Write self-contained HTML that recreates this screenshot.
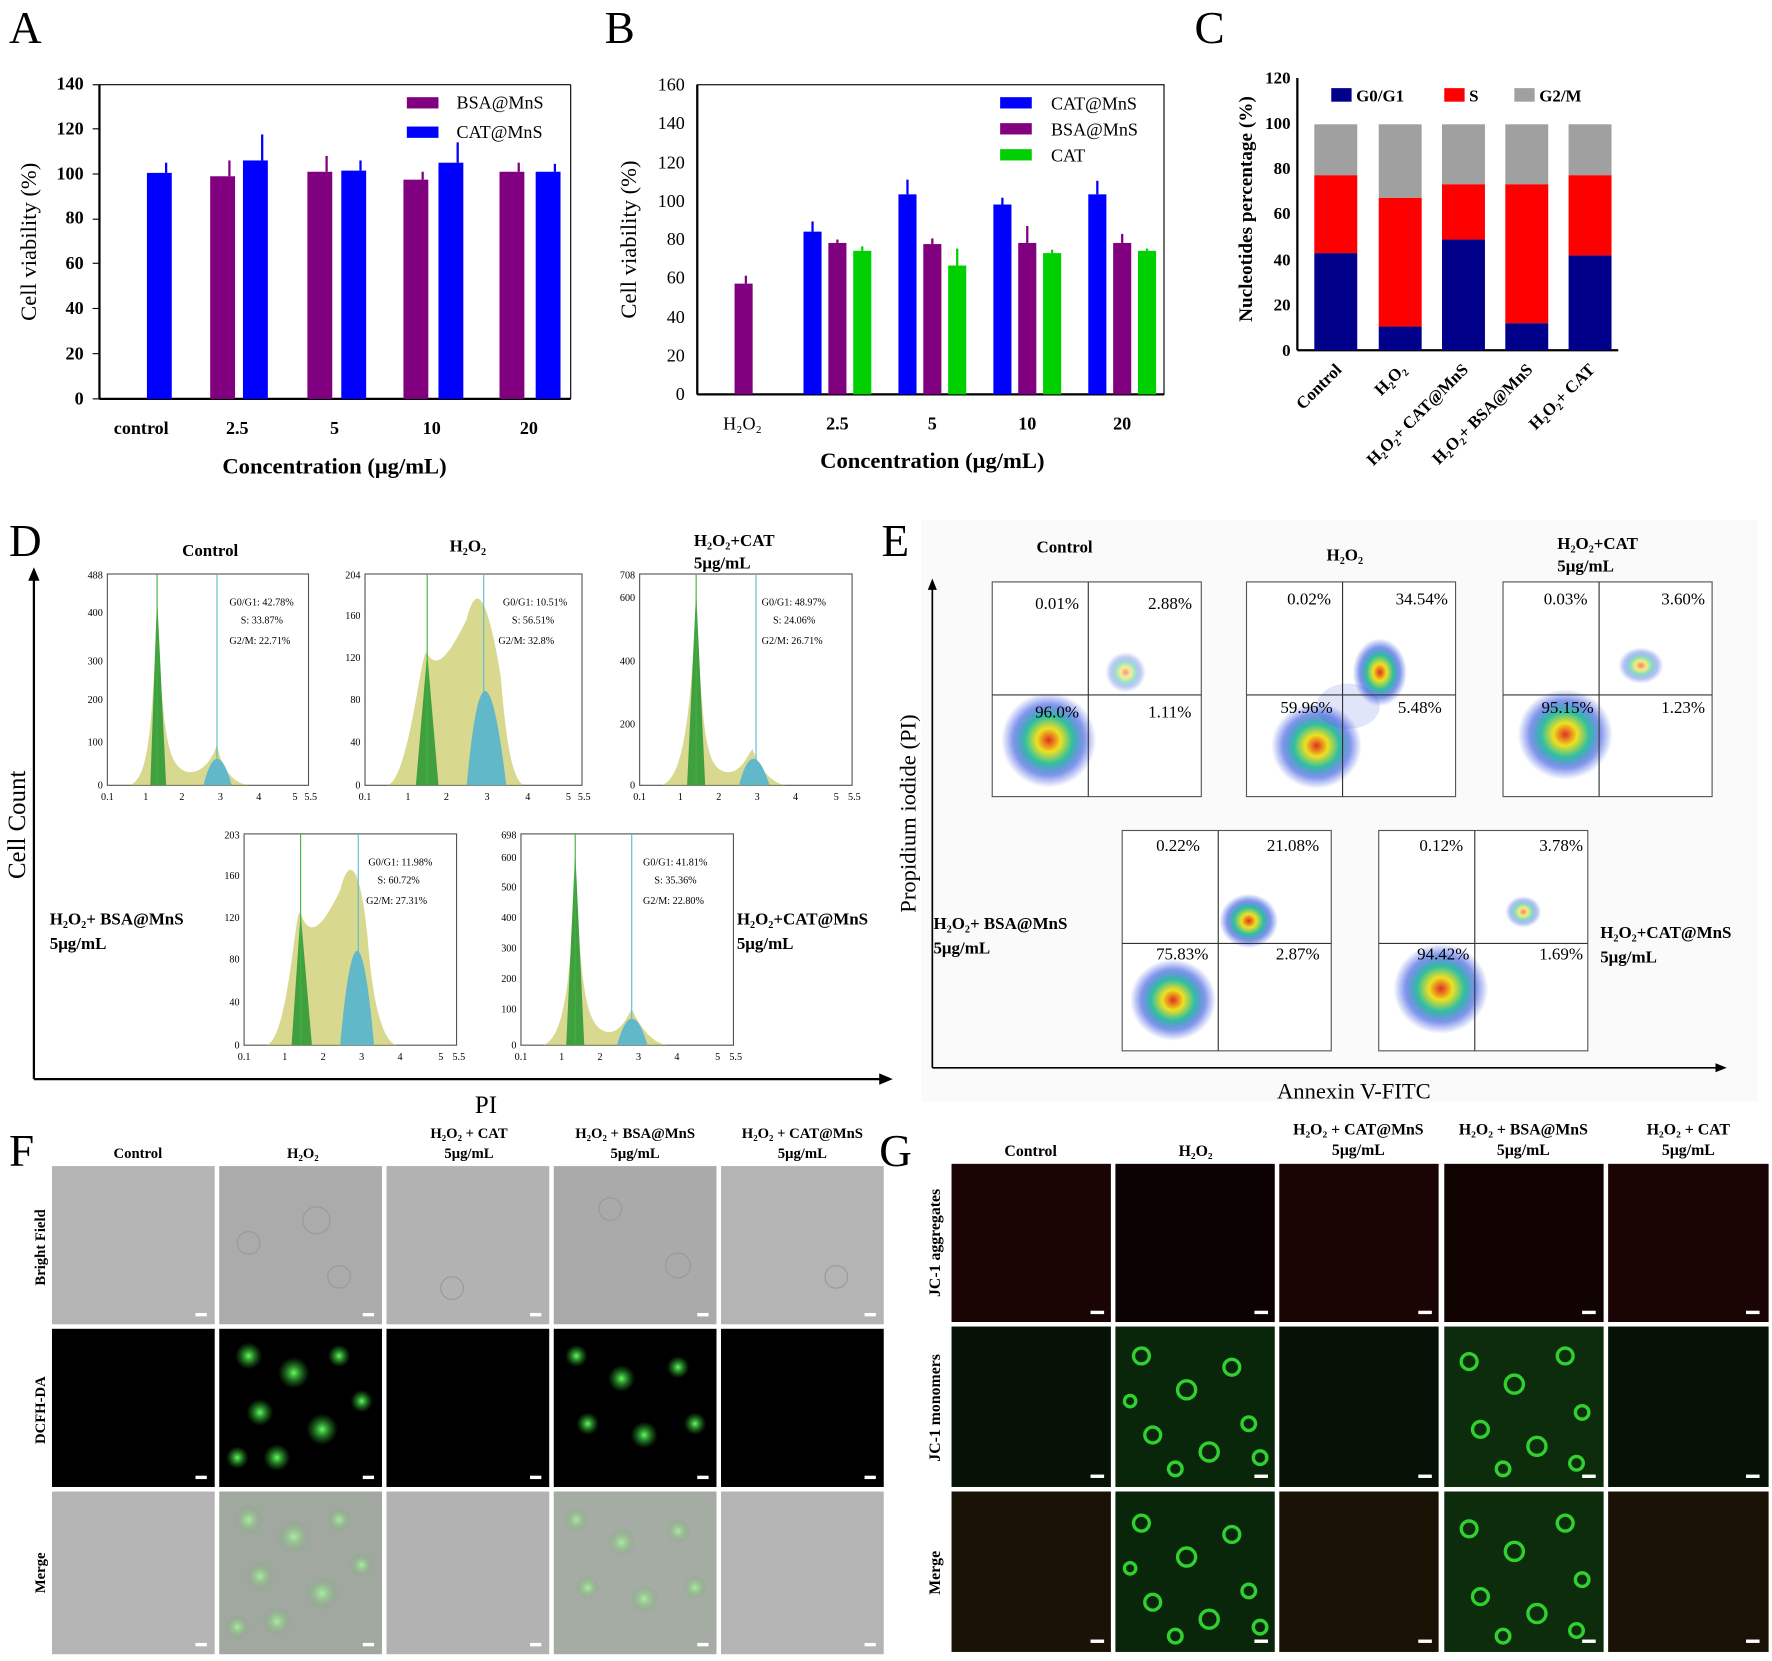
<!DOCTYPE html>
<html><head><meta charset="utf-8"><style>
html,body{margin:0;padding:0;background:#fff}
svg{display:block}
text{font-family:"Liberation Serif",serif;fill:#000}
</style></head><body>
<svg width="1772" height="1661" viewBox="0 0 1568 1470" preserveAspectRatio="none" xmlns="http://www.w3.org/2000/svg">
<defs>
<radialGradient id="blob"><stop offset="0" stop-color="#e03020"/><stop offset="0.25" stop-color="#f0e020"/><stop offset="0.5" stop-color="#30c0a0"/><stop offset="0.75" stop-color="#3050e0" stop-opacity="0.6"/><stop offset="1" stop-color="#3050e0" stop-opacity="0"/></radialGradient>
<radialGradient id="gc"><stop offset="0" stop-color="#60ff60"/><stop offset="1" stop-color="#20a020" stop-opacity="0"/></radialGradient>
<radialGradient id="gm"><stop offset="0" stop-color="#a8f0a0"/><stop offset="1" stop-color="#7aa070" stop-opacity="0"/></radialGradient>
<g id="hx" font-size="9" font-family="Liberation Serif"></g>
</defs>
<g font-size="40"><text x="8" y="38">A</text><text x="535" y="38">B</text><text x="1057" y="38">C</text><text x="8" y="492">D</text><text x="780" y="492">E</text><text x="8" y="1032">F</text><text x="778" y="1032">G</text></g>

<!-- Panel A -->
<g font-size="16" font-weight="bold">
<line x1="88" y1="75" x2="88" y2="353" stroke="#000" stroke-width="2"/>
<line x1="88" y1="353" x2="505" y2="353" stroke="#000" stroke-width="2"/>
<line x1="505" y1="75" x2="505" y2="353" stroke="#000" stroke-width="1"/>
<line x1="88" y1="75" x2="505" y2="75" stroke="#000" stroke-width="1"/>
<g text-anchor="end">
<text x="74" y="358">0</text><text x="74" y="318">20</text><text x="74" y="278">40</text><text x="74" y="238">60</text><text x="74" y="198">80</text><text x="74" y="159">100</text><text x="74" y="119">120</text><text x="74" y="79">140</text></g>
<g stroke="#000"><line x1="82" y1="353" x2="88" y2="353"/><line x1="82" y1="313" x2="88" y2="313"/><line x1="82" y1="273" x2="88" y2="273"/><line x1="82" y1="233" x2="88" y2="233"/><line x1="82" y1="194" x2="88" y2="194"/><line x1="82" y1="154" x2="88" y2="154"/><line x1="82" y1="114" x2="88" y2="114"/><line x1="82" y1="75" x2="88" y2="75"/></g>
<g text-anchor="middle"><text x="125" y="384">control</text><text x="210" y="384">2.5</text><text x="296" y="384">5</text><text x="382" y="384">10</text><text x="468" y="384">20</text></g>
<text x="296" y="419" text-anchor="middle" font-size="20">Concentration (μg/mL)</text>
<text transform="translate(32,214) rotate(-90)" text-anchor="middle" font-size="20" font-weight="normal">Cell viability (%)</text>
<g fill="#0000ff"><rect x="130" y="153" width="22" height="200"/><rect x="215" y="142" width="22" height="211"/><rect x="302" y="151" width="22" height="202"/><rect x="388" y="144" width="22" height="209"/><rect x="474" y="152" width="22" height="201"/></g>
<g fill="#800080"><rect x="186" y="156" width="22" height="197"/><rect x="272" y="152" width="22" height="201"/><rect x="357" y="159" width="22" height="194"/><rect x="442" y="152" width="22" height="201"/></g>
<g fill="#800080"><rect x="202" y="142" width="2" height="14"/><rect x="288" y="138" width="2" height="14"/><rect x="373" y="152" width="2" height="7"/><rect x="458" y="144" width="2" height="8"/></g>
<g fill="#0000ff"><rect x="146" y="144" width="2" height="9"/><rect x="231" y="119" width="2" height="23"/><rect x="318" y="142" width="2" height="9"/><rect x="404" y="126" width="2" height="18"/><rect x="490" y="145" width="2" height="7"/></g>
<rect x="360" y="86" width="28" height="10" fill="#800080"/><text x="404" y="96" font-weight="normal">BSA@MnS</text>
<rect x="360" y="112" width="28" height="10" fill="#0000ff"/><text x="404" y="122" font-weight="normal">CAT@MnS</text>
</g>

<!-- Panel B -->
<g font-size="16" font-weight="bold">
<rect x="617" y="75" width="413" height="274" fill="none" stroke="#000" stroke-width="1"/>
<line x1="617" y1="75" x2="617" y2="349" stroke="#000" stroke-width="2"/><line x1="617" y1="349" x2="1030" y2="349" stroke="#000" stroke-width="2"/>
<g text-anchor="end" font-weight="normal"><text x="606" y="354">0</text><text x="606" y="320">20</text><text x="606" y="286">40</text><text x="606" y="251">60</text><text x="606" y="217">80</text><text x="606" y="183">100</text><text x="606" y="149">120</text><text x="606" y="114">140</text><text x="606" y="80">160</text></g>
<g text-anchor="middle" font-weight="normal"><text x="657" y="380">H₂O₂</text></g>
<g text-anchor="middle"><text x="741" y="380">2.5</text><text x="825" y="380">5</text><text x="909" y="380">10</text><text x="993" y="380">20</text></g>
<text x="825" y="414" text-anchor="middle" font-size="20">Concentration (μg/mL)</text>
<text transform="translate(563,212) rotate(-90)" text-anchor="middle" font-size="20" font-weight="normal">Cell viability (%)</text>
<rect x="650" y="251" width="16" height="98" fill="#800080"/><rect x="659" y="244" width="2" height="7" fill="#800080"/>
<g fill="#0000ff"><rect x="711" y="205" width="16" height="144"/><rect x="795" y="172" width="16" height="177"/><rect x="879" y="181" width="16" height="168"/><rect x="963" y="172" width="16" height="177"/>
<rect x="718" y="196" width="2" height="9"/><rect x="802" y="159" width="2" height="13"/><rect x="886" y="175" width="2" height="6"/><rect x="970" y="160" width="2" height="12"/></g>
<g fill="#800080"><rect x="733" y="215" width="16" height="134"/><rect x="817" y="216" width="16" height="133"/><rect x="901" y="215" width="16" height="134"/><rect x="985" y="215" width="16" height="134"/>
<rect x="740" y="212" width="2" height="3"/><rect x="824" y="211" width="2" height="5"/><rect x="908" y="200" width="2" height="15"/><rect x="992" y="207" width="2" height="8"/></g>
<g fill="#00d000"><rect x="755" y="222" width="16" height="127"/><rect x="839" y="235" width="16" height="114"/><rect x="923" y="224" width="16" height="125"/><rect x="1007" y="222" width="16" height="127"/>
<rect x="762" y="218" width="2" height="4"/><rect x="846" y="220" width="2" height="15"/><rect x="930" y="221" width="2" height="3"/><rect x="1014" y="220" width="2" height="2"/></g>
<g font-weight="normal"><rect x="885" y="86" width="28" height="10" fill="#0000ff"/><text x="930" y="97">CAT@MnS</text>
<rect x="885" y="109" width="28" height="10" fill="#800080"/><text x="930" y="120">BSA@MnS</text>
<rect x="885" y="132" width="28" height="10" fill="#00d000"/><text x="930" y="143">CAT</text></g>
</g>

<!-- Panel C -->
<g font-size="15" font-weight="bold">
<line x1="1148" y1="69" x2="1148" y2="310" stroke="#000" stroke-width="2"/><line x1="1148" y1="310" x2="1432" y2="310" stroke="#000" stroke-width="2"/>
<g text-anchor="end"><text x="1142" y="315">0</text><text x="1142" y="275">20</text><text x="1142" y="235">40</text><text x="1142" y="194">60</text><text x="1142" y="154">80</text><text x="1142" y="114">100</text><text x="1142" y="74">120</text></g>
<text transform="translate(1108,185) rotate(-90)" text-anchor="middle" font-size="17">Nucleotides percentage (%)</text>
<g>
<rect x="1163" y="224" width="38" height="86" fill="#00008b"/><rect x="1163" y="155" width="38" height="69" fill="#ff0000"/><rect x="1163" y="110" width="38" height="45" fill="#a0a0a0"/>
<rect x="1220" y="289" width="38" height="21" fill="#00008b"/><rect x="1220" y="175" width="38" height="114" fill="#ff0000"/><rect x="1220" y="110" width="38" height="65" fill="#a0a0a0"/>
<rect x="1276" y="212" width="38" height="98" fill="#00008b"/><rect x="1276" y="163" width="38" height="49" fill="#ff0000"/><rect x="1276" y="110" width="38" height="53" fill="#a0a0a0"/>
<rect x="1332" y="286" width="38" height="24" fill="#00008b"/><rect x="1332" y="163" width="38" height="123" fill="#ff0000"/><rect x="1332" y="110" width="38" height="53" fill="#a0a0a0"/>
<rect x="1388" y="226" width="38" height="84" fill="#00008b"/><rect x="1388" y="155" width="38" height="71" fill="#ff0000"/><rect x="1388" y="110" width="38" height="45" fill="#a0a0a0"/>
</g>
<rect x="1178" y="78" width="18" height="12" fill="#00008b"/><text x="1200" y="90">G0/G1</text>
<rect x="1278" y="78" width="18" height="12" fill="#ff0000"/><text x="1300" y="90">S</text>
<rect x="1340" y="78" width="18" height="12" fill="#a0a0a0"/><text x="1362" y="90">G2/M</text>
<g text-anchor="end"><text transform="translate(1188,328) rotate(-45)">Control</text><text transform="translate(1245,328) rotate(-45)">H₂O₂</text><text transform="translate(1300,328) rotate(-45)">H₂O₂+ CAT@MnS</text><text transform="translate(1357,328) rotate(-45)">H₂O₂+ BSA@MnS</text><text transform="translate(1412,328) rotate(-45)">H₂O₂+ CAT</text></g>
</g>

<!-- Panel D -->
<g>
<line x1="30" y1="955" x2="30" y2="510" stroke="#000" stroke-width="2"/><polygon points="30,502 25,514 35,514"/>
<line x1="30" y1="955" x2="780" y2="955" stroke="#000" stroke-width="2"/><polygon points="790,955 778,950 778,960"/>
<text transform="translate(22,730) rotate(-90)" text-anchor="middle" font-size="22">Cell Count</text>
<text x="430" y="985" text-anchor="middle" font-size="22">PI</text>
<g font-size="15" font-weight="bold"><text x="186" y="492" text-anchor="middle">Control</text><text x="414" y="488" text-anchor="middle">H₂O₂</text><text x="614" y="483">H₂O₂+CAT</text><text x="614" y="503">5μg/mL</text>
<text x="44" y="818">H₂O₂+ BSA@MnS</text><text x="44" y="840">5μg/mL</text><text x="652" y="818">H₂O₂+CAT@MnS</text><text x="652" y="840">5μg/mL</text></g>
</g>
<g font-size="9">
<g transform="translate(95,508)"><rect width="178" height="187" fill="none" stroke="#555"/>
<path d="M20,187 C35,180 40,150 44,20 C48,150 55,170 70,175 C85,178 95,160 97,150 C100,170 110,185 125,187Z" fill="#c8c860" opacity="0.7"/>
<path d="M38,187 L44,20 L52,187Z" fill="#40a040"/><path d="M85,187 Q97,140 110,187Z" fill="#60b8c8"/>
<line x1="44" y1="0" x2="44" y2="187" stroke="#40b040"/><line x1="97" y1="0" x2="97" y2="187" stroke="#60b8d0"/>
<text x="108" y="28">G0/G1: 42.78%</text><text x="118" y="44">S: 33.87%</text><text x="108" y="62">G2/M: 22.71%</text>
<g text-anchor="end"><text x="-4" y="4">488</text><text x="-4" y="37">400</text><text x="-4" y="80">300</text><text x="-4" y="114">200</text><text x="-4" y="152">100</text><text x="-4" y="190">0</text></g>
<g text-anchor="middle"><text x="0" y="200">0.1</text><text x="34" y="200">1</text><text x="66" y="200">2</text><text x="100" y="200">3</text><text x="134" y="200">4</text><text x="166" y="200">5</text><text x="180" y="200">5.5</text></g></g>
<g transform="translate(323,508)"><rect width="192" height="187" fill="none" stroke="#555"/>
<path d="M20,187 C40,180 50,60 55,70 C65,90 80,60 90,40 C100,0 110,30 120,90 C125,150 130,180 140,187Z" fill="#c8c860" opacity="0.7"/>
<path d="M45,187 L55,70 L65,187Z" fill="#40a040"/><path d="M90,187 Q105,20 125,187Z" fill="#60b8c8"/>
<line x1="55" y1="0" x2="55" y2="187" stroke="#40b040"/><line x1="105" y1="0" x2="105" y2="187" stroke="#60b8d0"/>
<text x="122" y="28">G0/G1: 10.51%</text><text x="130" y="44">S: 56.51%</text><text x="118" y="62">G2/M: 32.8%</text>
<g text-anchor="end"><text x="-4" y="4">204</text><text x="-4" y="40">160</text><text x="-4" y="77">120</text><text x="-4" y="114">80</text><text x="-4" y="152">40</text><text x="-4" y="190">0</text></g>
<g text-anchor="middle"><text x="0" y="200">0.1</text><text x="38" y="200">1</text><text x="72" y="200">2</text><text x="108" y="200">3</text><text x="144" y="200">4</text><text x="180" y="200">5</text><text x="194" y="200">5.5</text></g></g>
<g transform="translate(566,508)"><rect width="188" height="187" fill="none" stroke="#555"/>
<path d="M20,187 C35,180 45,150 50,15 C55,150 60,170 75,175 C90,178 95,160 100,155 C105,170 115,185 130,187Z" fill="#c8c860" opacity="0.7"/>
<path d="M42,187 L50,15 L58,187Z" fill="#40a040"/><path d="M88,187 Q100,140 115,187Z" fill="#60b8c8"/>
<line x1="50" y1="0" x2="50" y2="187" stroke="#40b040"/><line x1="103" y1="0" x2="103" y2="187" stroke="#60b8d0"/>
<text x="108" y="28">G0/G1: 48.97%</text><text x="118" y="44">S: 24.06%</text><text x="108" y="62">G2/M: 26.71%</text>
<g text-anchor="end"><text x="-4" y="4">708</text><text x="-4" y="24">600</text><text x="-4" y="80">400</text><text x="-4" y="136">200</text><text x="-4" y="190">0</text></g>
<g text-anchor="middle"><text x="0" y="200">0.1</text><text x="36" y="200">1</text><text x="70" y="200">2</text><text x="104" y="200">3</text><text x="138" y="200">4</text><text x="174" y="200">5</text><text x="190" y="200">5.5</text></g></g>
<g transform="translate(216,738)"><rect width="188" height="187" fill="none" stroke="#555"/>
<path d="M20,187 C40,180 45,60 50,70 C60,100 75,70 85,50 C95,10 105,40 110,100 C115,160 125,185 135,187Z" fill="#c8c860" opacity="0.7"/>
<path d="M42,187 L50,70 L60,187Z" fill="#40a040"/><path d="M85,187 Q100,20 115,187Z" fill="#60b8c8"/>
<line x1="50" y1="0" x2="50" y2="187" stroke="#40b040"/><line x1="101" y1="0" x2="101" y2="187" stroke="#60b8d0"/>
<text x="110" y="28">G0/G1: 11.98%</text><text x="118" y="44">S: 60.72%</text><text x="108" y="62">G2/M: 27.31%</text>
<g text-anchor="end"><text x="-4" y="4">203</text><text x="-4" y="40">160</text><text x="-4" y="77">120</text><text x="-4" y="114">80</text><text x="-4" y="152">40</text><text x="-4" y="190">0</text></g>
<g text-anchor="middle"><text x="0" y="200">0.1</text><text x="36" y="200">1</text><text x="70" y="200">2</text><text x="104" y="200">3</text><text x="138" y="200">4</text><text x="174" y="200">5</text><text x="190" y="200">5.5</text></g></g>
<g transform="translate(461,738)"><rect width="188" height="187" fill="none" stroke="#555"/>
<path d="M20,187 C35,180 45,150 48,15 C52,150 60,170 75,175 C88,178 95,160 98,155 C105,170 115,185 130,187Z" fill="#c8c860" opacity="0.7"/>
<path d="M40,187 L48,15 L56,187Z" fill="#40a040"/><path d="M85,187 Q98,140 112,187Z" fill="#60b8c8"/>
<line x1="48" y1="0" x2="48" y2="187" stroke="#40b040"/><line x1="98" y1="0" x2="98" y2="187" stroke="#60b8d0"/>
<text x="108" y="28">G0/G1: 41.81%</text><text x="118" y="44">S: 35.36%</text><text x="108" y="62">G2/M: 22.80%</text>
<g text-anchor="end"><text x="-4" y="4">698</text><text x="-4" y="24">600</text><text x="-4" y="50">500</text><text x="-4" y="77">400</text><text x="-4" y="104">300</text><text x="-4" y="131">200</text><text x="-4" y="158">100</text><text x="-4" y="190">0</text></g>
<g text-anchor="middle"><text x="0" y="200">0.1</text><text x="36" y="200">1</text><text x="70" y="200">2</text><text x="104" y="200">3</text><text x="138" y="200">4</text><text x="174" y="200">5</text><text x="190" y="200">5.5</text></g></g>
</g>

<!-- Panel E -->
<rect x="815" y="460" width="740" height="515" fill="#fafafa"/>
<line x1="825" y1="945" x2="825" y2="520" stroke="#000" stroke-width="1.5"/><polygon points="825,512 821,522 829,522"/>
<line x1="825" y1="945" x2="1520" y2="945" stroke="#000" stroke-width="1.5"/><polygon points="1528,945 1518,941 1518,949"/>
<text transform="translate(810,720) rotate(-90)" text-anchor="middle" font-size="20">Propidium iodide (PI)</text>
<text x="1198" y="972" text-anchor="middle" font-size="20">Annexin V-FITC</text>
<g font-size="15" font-weight="bold"><text x="942" y="489" text-anchor="middle">Control</text><text x="1190" y="496" text-anchor="middle">H₂O₂</text><text x="1378" y="486">H₂O₂+CAT</text><text x="1378" y="506">5μg/mL</text>
<text x="826" y="822">H₂O₂+ BSA@MnS</text><text x="826" y="844">5μg/mL</text><text x="1416" y="830">H₂O₂+CAT@MnS</text><text x="1416" y="852">5μg/mL</text></g>
<g font-size="15">
<g transform="translate(878,515)"><rect width="185" height="190" fill="#fff" stroke="#555"/>
<ellipse cx="50" cy="140" rx="42" ry="42" fill="url(#blob)"/><ellipse cx="118" cy="80" rx="18" ry="18" fill="url(#blob)" opacity="0.5"/>
<line x1="85" y1="0" x2="85" y2="190" stroke="#333"/><line x1="0" y1="100" x2="185" y2="100" stroke="#333"/>
<text x="38" y="24">0.01%</text><text x="138" y="24">2.88%</text><text x="38" y="120">96.0%</text><text x="138" y="120">1.11%</text></g>
<g transform="translate(1103,515)"><rect width="185" height="190" fill="#fff" stroke="#555"/>
<ellipse cx="62" cy="145" rx="40" ry="38" fill="url(#blob)"/><ellipse cx="118" cy="80" rx="24" ry="30" fill="url(#blob)"/><ellipse cx="90" cy="110" rx="28" ry="20" fill="#3050e0" opacity="0.15"/>
<line x1="85" y1="0" x2="85" y2="190" stroke="#333"/><line x1="0" y1="100" x2="185" y2="100" stroke="#333"/>
<text x="36" y="20">0.02%</text><text x="132" y="20">34.54%</text><text x="30" y="116">59.96%</text><text x="134" y="116">5.48%</text></g>
<g transform="translate(1330,515)"><rect width="185" height="190" fill="#fff" stroke="#555"/>
<ellipse cx="55" cy="135" rx="42" ry="40" fill="url(#blob)"/><ellipse cx="122" cy="74" rx="20" ry="16" fill="url(#blob)" opacity="0.6"/>
<line x1="85" y1="0" x2="85" y2="190" stroke="#333"/><line x1="0" y1="100" x2="185" y2="100" stroke="#333"/>
<text x="36" y="20">0.03%</text><text x="140" y="20">3.60%</text><text x="34" y="116">95.15%</text><text x="140" y="116">1.23%</text></g>
<g transform="translate(993,735)"><rect width="185" height="195" fill="#fff" stroke="#555"/>
<ellipse cx="45" cy="150" rx="38" ry="36" fill="url(#blob)"/><ellipse cx="112" cy="80" rx="26" ry="24" fill="url(#blob)"/>
<line x1="85" y1="0" x2="85" y2="195" stroke="#333"/><line x1="0" y1="100" x2="185" y2="100" stroke="#333"/>
<text x="30" y="18">0.22%</text><text x="128" y="18">21.08%</text><text x="30" y="114">75.83%</text><text x="136" y="114">2.87%</text></g>
<g transform="translate(1220,735)"><rect width="185" height="195" fill="#fff" stroke="#555"/>
<ellipse cx="55" cy="140" rx="42" ry="40" fill="url(#blob)"/><ellipse cx="128" cy="72" rx="16" ry="14" fill="url(#blob)" opacity="0.6"/>
<line x1="85" y1="0" x2="85" y2="195" stroke="#333"/><line x1="0" y1="100" x2="185" y2="100" stroke="#333"/>
<text x="36" y="18">0.12%</text><text x="142" y="18">3.78%</text><text x="34" y="114">94.42%</text><text x="142" y="114">1.69%</text></g>
</g>

<!-- Panel F -->
<g font-size="13" font-weight="bold" text-anchor="middle">
<text x="122" y="1025">Control</text><text x="268" y="1025">H₂O₂</text><text x="415" y="1007">H₂O₂ + CAT</text><text x="415" y="1025">5μg/mL</text><text x="562" y="1007">H₂O₂ + BSA@MnS</text><text x="562" y="1025">5μg/mL</text><text x="710" y="1007">H₂O₂ + CAT@MnS</text><text x="710" y="1025">5μg/mL</text>
<text transform="translate(40,1104) rotate(-90)">Bright Field</text><text transform="translate(40,1248) rotate(-90)">DCFH-DA</text><text transform="translate(40,1392) rotate(-90)">Merge</text>
</g>
<g>
<rect x="46" y="1032" width="144" height="140" fill="#b4b4b4"/><rect x="194" y="1032" width="144" height="140" fill="#ababab"/><rect x="342" y="1032" width="144" height="140" fill="#b2b2b2"/><rect x="490" y="1032" width="144" height="140" fill="#aaaaaa"/><rect x="638" y="1032" width="144" height="140" fill="#b4b4b4"/>
<g fill="none" stroke="#999" stroke-width="1"><circle cx="220" cy="1100" r="10"/><circle cx="280" cy="1080" r="12"/><circle cx="300" cy="1130" r="10"/><circle cx="540" cy="1070" r="10"/><circle cx="600" cy="1120" r="11"/><circle cx="400" cy="1140" r="10"/><circle cx="740" cy="1130" r="10"/></g>
<rect x="46" y="1176" width="144" height="140" fill="#000"/><rect x="194" y="1176" width="144" height="140" fill="#000"/><rect x="342" y="1176" width="144" height="140" fill="#000"/><rect x="490" y="1176" width="144" height="140" fill="#000"/><rect x="638" y="1176" width="144" height="140" fill="#000"/>
<rect x="46" y="1320" width="144" height="144" fill="#b4b4b4"/><rect x="194" y="1320" width="144" height="144" fill="#a0a8a0"/><rect x="342" y="1320" width="144" height="144" fill="#b2b2b2"/><rect x="490" y="1320" width="144" height="144" fill="#a4aca4"/><rect x="638" y="1320" width="144" height="144" fill="#b4b4b4"/>
<g fill="url(#gc)"><circle cx="220" cy="1200" r="12"/><circle cx="260" cy="1215" r="14"/><circle cx="300" cy="1200" r="10"/><circle cx="230" cy="1250" r="12"/><circle cx="285" cy="1265" r="14"/><circle cx="320" cy="1240" r="10"/><circle cx="210" cy="1290" r="10"/><circle cx="245" cy="1290" r="12"/>
<circle cx="510" cy="1200" r="10"/><circle cx="550" cy="1220" r="12"/><circle cx="600" cy="1210" r="10"/><circle cx="520" cy="1260" r="10"/><circle cx="570" cy="1270" r="12"/><circle cx="615" cy="1260" r="10"/></g>
<g fill="url(#gm)"><circle cx="220" cy="1345" r="13"/><circle cx="260" cy="1360" r="15"/><circle cx="300" cy="1345" r="11"/><circle cx="230" cy="1395" r="13"/><circle cx="285" cy="1410" r="15"/><circle cx="320" cy="1385" r="11"/><circle cx="210" cy="1440" r="11"/><circle cx="245" cy="1435" r="13"/>
<circle cx="510" cy="1345" r="11"/><circle cx="550" cy="1365" r="13"/><circle cx="600" cy="1355" r="11"/><circle cx="520" cy="1405" r="11"/><circle cx="570" cy="1415" r="13"/><circle cx="615" cy="1405" r="11"/></g>
<g fill="#fff"><rect x="173" y="1162" width="10" height="3"/><rect x="321" y="1162" width="10" height="3"/><rect x="469" y="1162" width="10" height="3"/><rect x="617" y="1162" width="10" height="3"/><rect x="765" y="1162" width="10" height="3"/>
<rect x="173" y="1306" width="10" height="3"/><rect x="321" y="1306" width="10" height="3"/><rect x="469" y="1306" width="10" height="3"/><rect x="617" y="1306" width="10" height="3"/><rect x="765" y="1306" width="10" height="3"/>
<rect x="173" y="1454" width="10" height="3"/><rect x="321" y="1454" width="10" height="3"/><rect x="469" y="1454" width="10" height="3"/><rect x="617" y="1454" width="10" height="3"/><rect x="765" y="1454" width="10" height="3"/></g>
</g>

<!-- Panel G -->
<g font-size="14" font-weight="bold" text-anchor="middle">
<text x="912" y="1023">Control</text><text x="1058" y="1023">H₂O₂</text><text x="1202" y="1004">H₂O₂ + CAT@MnS</text><text x="1202" y="1022">5μg/mL</text><text x="1348" y="1004">H₂O₂ + BSA@MnS</text><text x="1348" y="1022">5μg/mL</text><text x="1494" y="1004">H₂O₂ + CAT</text><text x="1494" y="1022">5μg/mL</text>
<text transform="translate(832,1100) rotate(-90)">JC-1 aggregates</text><text transform="translate(832,1246) rotate(-90)">JC-1 monomers</text><text transform="translate(832,1392) rotate(-90)">Merge</text>
</g>
<g>
<rect x="842" y="1030" width="141" height="140" fill="#1a0404"/><rect x="987" y="1030" width="141" height="140" fill="#0c0202"/><rect x="1132" y="1030" width="141" height="140" fill="#1a0404"/><rect x="1278" y="1030" width="141" height="140" fill="#120303"/><rect x="1423" y="1030" width="142" height="140" fill="#1a0404"/>
<rect x="842" y="1174" width="141" height="142" fill="#061206"/><rect x="987" y="1174" width="141" height="142" fill="#0a260a"/><rect x="1132" y="1174" width="141" height="142" fill="#061206"/><rect x="1278" y="1174" width="141" height="142" fill="#0c2c0c"/><rect x="1423" y="1174" width="142" height="142" fill="#061206"/>
<rect x="842" y="1320" width="141" height="142" fill="#1a1204"/><rect x="987" y="1320" width="141" height="142" fill="#0a260a"/><rect x="1132" y="1320" width="141" height="142" fill="#1a1204"/><rect x="1278" y="1320" width="141" height="142" fill="#0c2c0c"/><rect x="1423" y="1320" width="142" height="142" fill="#1a1204"/>
<g fill="none" stroke="#30d030" stroke-width="3"><circle cx="1010" cy="1200" r="7"/><circle cx="1050" cy="1230" r="8"/><circle cx="1090" cy="1210" r="7"/><circle cx="1020" cy="1270" r="7"/><circle cx="1070" cy="1285" r="8"/><circle cx="1105" cy="1260" r="6"/><circle cx="1040" cy="1300" r="6"/><circle cx="1115" cy="1290" r="6"/><circle cx="1000" cy="1240" r="5"/>
<circle cx="1300" cy="1205" r="7"/><circle cx="1340" cy="1225" r="8"/><circle cx="1385" cy="1200" r="7"/><circle cx="1310" cy="1265" r="7"/><circle cx="1360" cy="1280" r="8"/><circle cx="1400" cy="1250" r="6"/><circle cx="1330" cy="1300" r="6"/><circle cx="1395" cy="1295" r="6"/>
<circle cx="1010" cy="1348" r="7"/><circle cx="1050" cy="1378" r="8"/><circle cx="1090" cy="1358" r="7"/><circle cx="1020" cy="1418" r="7"/><circle cx="1070" cy="1433" r="8"/><circle cx="1105" cy="1408" r="6"/><circle cx="1040" cy="1448" r="6"/><circle cx="1115" cy="1440" r="6"/><circle cx="1000" cy="1388" r="5"/>
<circle cx="1300" cy="1353" r="7"/><circle cx="1340" cy="1373" r="8"/><circle cx="1385" cy="1348" r="7"/><circle cx="1310" cy="1413" r="7"/><circle cx="1360" cy="1428" r="8"/><circle cx="1400" cy="1398" r="6"/><circle cx="1330" cy="1448" r="6"/><circle cx="1395" cy="1443" r="6"/></g>
<g fill="#fff"><rect x="965" y="1160" width="12" height="3"/><rect x="1110" y="1160" width="12" height="3"/><rect x="1255" y="1160" width="12" height="3"/><rect x="1400" y="1160" width="12" height="3"/><rect x="1545" y="1160" width="12" height="3"/>
<rect x="965" y="1305" width="12" height="3"/><rect x="1110" y="1305" width="12" height="3"/><rect x="1255" y="1305" width="12" height="3"/><rect x="1400" y="1305" width="12" height="3"/><rect x="1545" y="1305" width="12" height="3"/>
<rect x="965" y="1451" width="12" height="3"/><rect x="1110" y="1451" width="12" height="3"/><rect x="1255" y="1451" width="12" height="3"/><rect x="1400" y="1451" width="12" height="3"/><rect x="1545" y="1451" width="12" height="3"/></g>
</g>
</svg>
</body></html>
